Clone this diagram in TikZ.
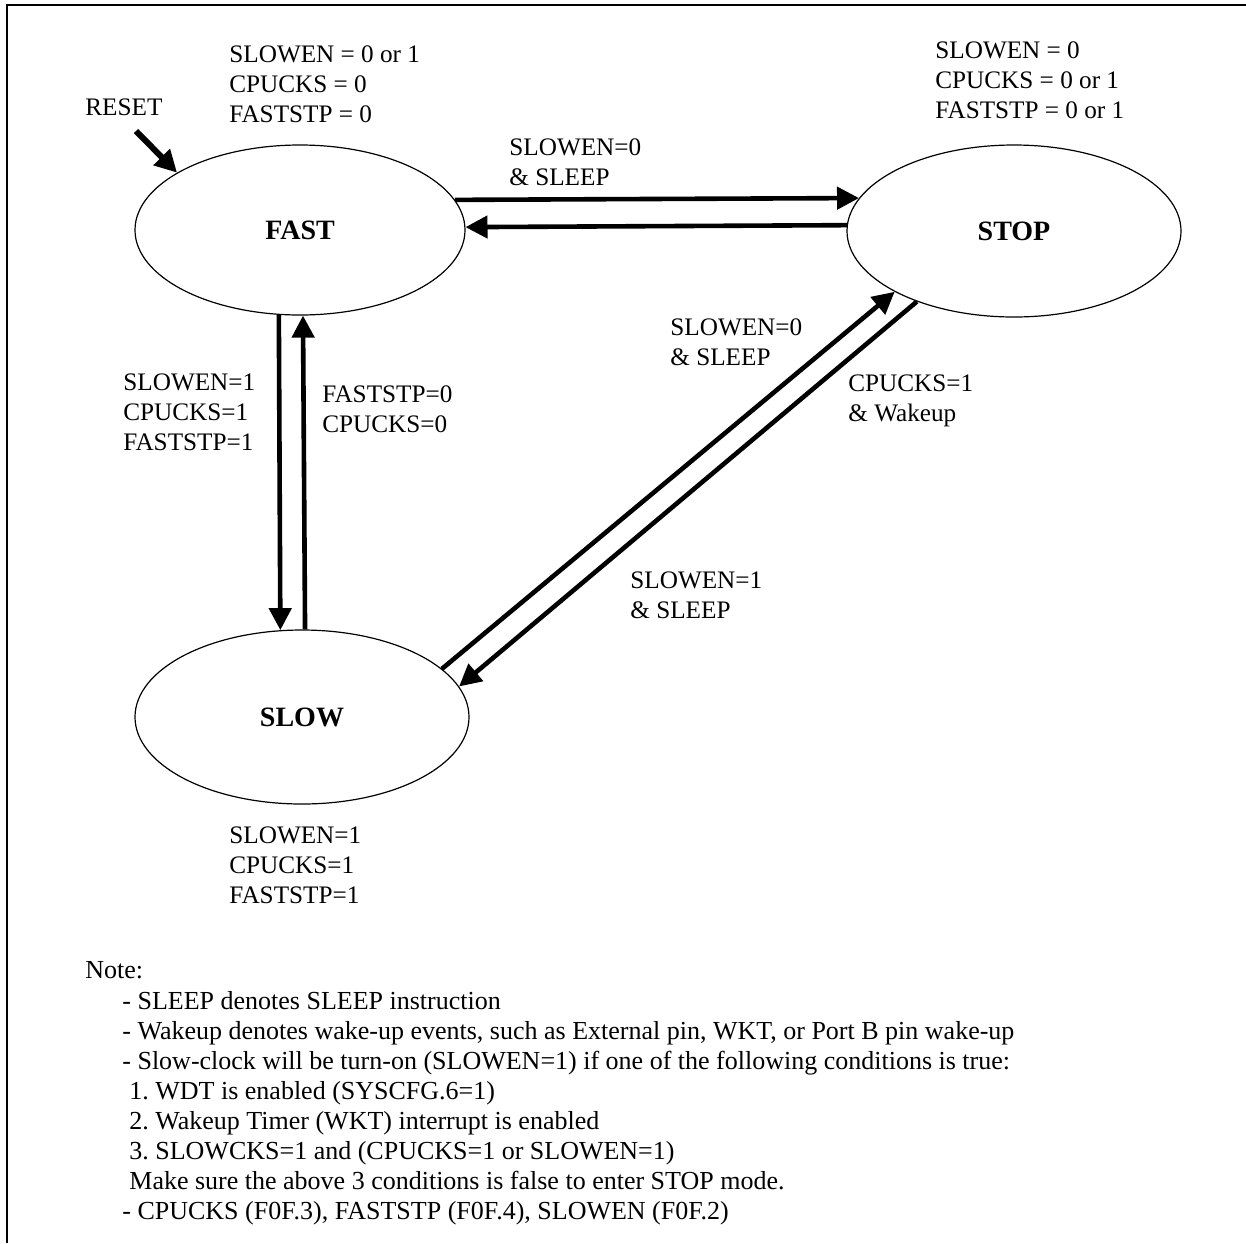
\documentclass[tikz,border=0pt]{standalone}
\usepackage{fontspec}
\setmainfont{Liberation Serif}
\usetikzlibrary{arrows.meta,shapes.geometric}

\begin{document}
\begin{tikzpicture}[x=0.5pt,y=-0.5pt,
        every node/.style={font=\fontsize{12.6}{15}\selectfont\frenchspacing,inner sep=0pt},
        state/.style={ellipse,draw,line width=0.6pt,font=\fontsize{14}{15}\selectfont\bfseries},
        lbl/.style={align=left,anchor=north west},
        arrow/.style={-{Triangle[length=11pt,width=11pt]},line width=2.3pt}]
        \useasboundingbox (0,0) rectangle (1246,1243);
        \draw[line width=1.3pt] (7,1243) -- (7,5) -- (1246,5);
        % states
        \node[state,minimum width=165pt,minimum height=85pt] (fast) at (300,230) {FAST};
        \node[state,minimum width=167pt,minimum height=86pt] (stop) at (1014,231) {STOP};
        \node[state,minimum width=167pt,minimum height=87pt] (slow) at (302,717) {SLOW};
        % register values
        \node[lbl] (fastval) at (229,45) {SLOWEN = 0 or 1\\CPUCKS = 0\\FASTSTP = 0};
        \node[lbl] (stopval) at (935,41) {SLOWEN = 0\\CPUCKS = 0 or 1\\FASTSTP = 0 or 1};
        \node[lbl] (slowval) at (229,826) {SLOWEN=1\\CPUCKS=1\\FASTSTP=1};
        \node[lbl] (reset) at (85,98) {RESET};
        \coordinate (rst) at (136,131);
        % transitions
        \draw[arrow,line width=3pt] (rst) -- (fast.155.5);
        \draw[arrow] (fast.11) -- (stop.168.75);
        \draw[arrow] (stop.178.28) -- (fast.1.39);
        \draw[arrow] (fast.256) -- (slow.104.94);
        \draw[arrow] (slow.88.68) -- (fast.272.7);
        \draw[arrow] (slow.19.81) -- (stop.207.68);
        \draw[arrow] (stop.216.78) -- (slow.11.42);
        \node[lbl] (fasttostop) at (509,138) {SLOWEN=0\\\& SLEEP};
        \node[lbl] (fasttoslow) at (123,373) {SLOWEN=1\\CPUCKS=1\\FASTSTP=1};
        \node[lbl] (slowtofast) at (322,385) {FASTSTP=0\\CPUCKS=0};
        \node[lbl] (slowtostop) at (670,318) {SLOWEN=0\\\& SLEEP};
        \node[lbl] (stoptoslow) at (848,374) {CPUCKS=1\\\& Wakeup};
        \node[lbl] (slowsleep) at (630,571) {SLOWEN=1\\\& SLEEP};
        % notes
        \node[lbl,font=\fontsize{13}{15}\selectfont\frenchspacing] (note) at (85,961) {Note:};
        \node[lbl,font=\fontsize{13}{15}\selectfont\frenchspacing] (notes) at (122,991) {- SLEEP denotes SLEEP instruction\\
          - Wakeup denotes wake-up events, such as External pin, WKT, or Port B pin wake-up\\
          - Slow-clock will be turn-on (SLOWEN=1) if one of the following conditions is true:\\
          \hspace*{3.5pt}1. WDT is enabled (SYSCFG.6=1)\\
          \hspace*{3.5pt}2. Wakeup Timer (WKT) interrupt is enabled\\
          \hspace*{3.5pt}3. SLOWCKS=1 and (CPUCKS=1 or SLOWEN=1)\\
          \hspace*{3.5pt}Make sure the above 3 conditions is false to enter STOP mode.\\
          - CPUCKS (F0F.3), FASTSTP (F0F.4), SLOWEN (F0F.2)};
      \end{tikzpicture}
\end{document}
